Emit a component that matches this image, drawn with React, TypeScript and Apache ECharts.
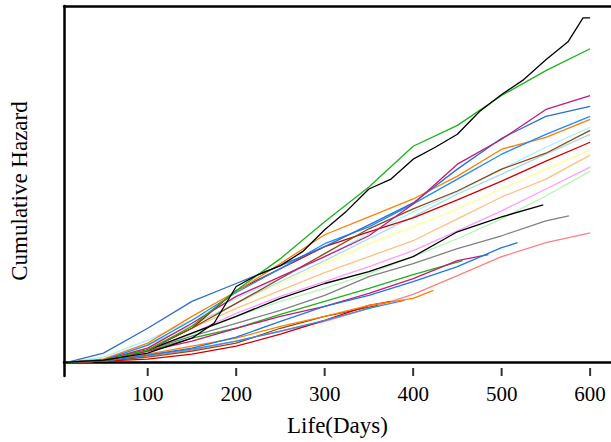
import React, { useEffect, useRef } from "react";
import * as echarts from "echarts";

// Shared sampling days (Life, days)
const DAYS = [10, 50, 100, 150, 200, 250, 300, 350, 400, 450, 500, 550, 600];

// Top black curve (read at 25-day spacing)
const blackTopDays = [10, 50, 100, 150, 175, 200, 225, 250, 275, 300, 325, 350, 375, 400, 425, 450, 475, 500, 525, 550, 575, 592, 600];
const blackTop = [0, 0.02, 0.09, 0.24, 0.39, 0.76, 0.88, 0.97, 1.11, 1.33, 1.52, 1.74, 1.84, 2.04, 2.16, 2.29, 2.52, 2.69, 2.84, 3.04, 3.22, 3.46, 3.46];

const greenTop = [0, 0.02, 0.12, 0.36, 0.72, 1.04, 1.41, 1.76, 2.17, 2.38, 2.68, 2.93, 3.15];
const magenta = [0, 0.02, 0.14, 0.39, 0.66, 0.86, 1.06, 1.27, 1.59, 1.99, 2.24, 2.54, 2.68];
const steelBlue = [0, 0.09, 0.34, 0.61, 0.79, 0.97, 1.16, 1.38, 1.6, 1.94, 2.25, 2.47, 2.57];
const dodgerBlue = [0, 0.02, 0.17, 0.42, 0.7, 0.94, 1.19, 1.36, 1.59, 1.84, 2.09, 2.29, 2.47];
const orange = [0, 0.03, 0.19, 0.46, 0.71, 0.99, 1.28, 1.46, 1.64, 1.87, 2.14, 2.26, 2.44];
const lightCyan = [0, 0.05, 0.22, 0.42, 0.64, 0.84, 1.06, 1.29, 1.51, 1.71, 1.94, 2.16, 2.36];
const brown = [0, 0.01, 0.12, 0.34, 0.59, 0.84, 1.09, 1.34, 1.54, 1.72, 1.94, 2.1, 2.33];
const lightBlue = [0, 0.03, 0.17, 0.37, 0.59, 0.81, 1.02, 1.24, 1.46, 1.69, 1.89, 2.09, 2.29];
const red = [0, 0.01, 0.12, 0.34, 0.72, 0.94, 1.16, 1.31, 1.45, 1.63, 1.82, 2.02, 2.21];
const lightYellow = [0, 0.02, 0.16, 0.37, 0.59, 0.79, 0.99, 1.19, 1.36, 1.54, 1.74, 1.94, 2.13];
const peach = [0, 0.02, 0.14, 0.34, 0.54, 0.72, 0.9, 1.06, 1.22, 1.44, 1.66, 1.84, 2.08];
const pink = [0, 0.02, 0.12, 0.29, 0.49, 0.66, 0.81, 0.96, 1.12, 1.32, 1.52, 1.74, 1.96];
const lightGreen = [0, 0.01, 0.11, 0.28, 0.46, 0.61, 0.74, 0.89, 1.06, 1.24, 1.44, 1.67, 1.92];
const salmon = [0, 0.01, 0.06, 0.12, 0.21, 0.31, 0.41, 0.54, 0.68, 0.87, 1.06, 1.2, 1.3];

// Curves that stop before day 600
const blackLowDays = [10, 50, 100, 150, 200, 250, 300, 350, 400, 450, 500, 547];
const blackLow = [0, 0.02, 0.12, 0.29, 0.46, 0.64, 0.79, 0.91, 1.06, 1.31, 1.46, 1.58];
const grayDays = [10, 50, 100, 150, 200, 250, 300, 350, 400, 450, 500, 550, 576];
const gray = [0, 0.01, 0.12, 0.26, 0.39, 0.52, 0.67, 0.86, 0.99, 1.14, 1.27, 1.42, 1.47];
const blueLowDays = [10, 50, 100, 150, 200, 250, 300, 350, 400, 450, 500, 518];
const blueLow = [0, 0.01, 0.07, 0.14, 0.25, 0.41, 0.56, 0.67, 0.81, 0.96, 1.15, 1.2];
const magentaShortDays = [10, 50, 100, 150, 200, 250, 300, 350, 400, 450, 485];
const magentaShort = [0, 0.01, 0.11, 0.21, 0.34, 0.46, 0.56, 0.69, 0.84, 1.02, 1.08];
const greenShortDays = [10, 50, 100, 150, 200, 250, 300, 350, 400, 456];
const greenShort = [0, 0.02, 0.11, 0.24, 0.34, 0.48, 0.61, 0.74, 0.88, 1.02];
const orangeShortDays = [10, 50, 100, 150, 200, 250, 300, 350, 400, 423];
const orangeShort = [0, 0.01, 0.08, 0.16, 0.24, 0.36, 0.46, 0.57, 0.64, 0.72];
const blueShortDays = [10, 50, 100, 150, 200, 250, 300, 350, 390];
const blueShort = [0, 0.01, 0.07, 0.13, 0.21, 0.31, 0.42, 0.54, 0.62];
const redLowDays = [10, 50, 100, 150, 200, 250, 300, 350, 375];
const redLow = [0, 0.01, 0.03, 0.08, 0.16, 0.28, 0.42, 0.57, 0.61];
const brownLowDays = [10, 50, 100, 150, 200, 250, 300, 360];
const brownLow = [0, 0.01, 0.05, 0.11, 0.19, 0.34, 0.46, 0.57];

const X_TICKS = [100, 200, 300, 400, 500, 600];

const curves = [
  { days: DAYS, v: lightGreen, c: "#b4f5b4" },
  { days: DAYS, v: pink, c: "#ff9cff" },
  { days: DAYS, v: peach, c: "#ffc080" },
  { days: DAYS, v: lightYellow, c: "#ffff99" },
  { days: DAYS, v: lightBlue, c: "#a8d8f0" },
  { days: DAYS, v: lightCyan, c: "#a8f0ff" },
  { days: DAYS, v: salmon, c: "#ff8080" },
  { days: brownLowDays, v: brownLow, c: "#8b4a14" },
  { days: redLowDays, v: redLow, c: "#d00000" },
  { days: blueShortDays, v: blueShort, c: "#3a8ee6" },
  { days: orangeShortDays, v: orangeShort, c: "#ff8000" },
  { days: greenShortDays, v: greenShort, c: "#19b419" },
  { days: magentaShortDays, v: magentaShort, c: "#c8187a" },
  { days: blueLowDays, v: blueLow, c: "#1a7ae0" },
  { days: grayDays, v: gray, c: "#808080" },
  { days: blackLowDays, v: blackLow, c: "#000000" },
  { days: DAYS, v: red, c: "#d00000" },
  { days: DAYS, v: brown, c: "#8b4a14" },
  { days: DAYS, v: orange, c: "#ff8000" },
  { days: DAYS, v: dodgerBlue, c: "#1a8cff" },
  { days: DAYS, v: steelBlue, c: "#2a6fc9" },
  { days: DAYS, v: magenta, c: "#c8187a" },
  { days: DAYS, v: greenTop, c: "#19b419" },
  { days: blackTopDays, v: blackTop, c: "#000000" },
];

const FONT = "Liberation Serif";
const Y_MIN = -0.14;
const Y_MAX = 3.58;

export default function App() {
  const ref = useRef<HTMLDivElement>(null);
  useEffect(() => {
    if (!ref.current) return;
    const chart = echarts.init(ref.current, null, { renderer: "svg" });
    const xMin = 5.4;
    const xMax = 623.6;
    const lineSeries = curves.map((s, i) => ({
      type: "line",
      xAxisIndex: 0,
      showSymbol: false,
      symbol: "none",
      silent: true,
      z: 2 + i * 0.01,
      data: s.days.map((d, k) => [d, s.v[k]]),
      lineStyle: { color: s.c, width: 1.3 },
    }));
    chart.setOption({
      animation: false,
      backgroundColor: "#ffffff",
      grid: { left: 62, top: 6, right: 0, bottom: 64, containLabel: false },
      xAxis: [
        {
          type: "value",
          min: xMin,
          max: xMax,
          position: "bottom",
          splitLine: { show: false },
          axisLine: { show: true, lineStyle: { color: "#000", width: 2.5 } },
          axisTick: { show: false },
          axisLabel: {
            show: true,
            color: "#000",
            fontFamily: FONT,
            fontWeight: "normal",
            fontSize: 21,
            margin: 7,
            customValues: X_TICKS,
            formatter: (v: number) => (X_TICKS.indexOf(Math.round(v)) >= 0 ? String(Math.round(v)) : ""),
          },
          name: "Life(Days)",
          nameLocation: "middle",
          nameGap: 38,
          nameTextStyle: { color: "#000", fontFamily: FONT, fontSize: 23, fontWeight: "normal" },
        },
        {
          type: "value",
          min: xMin,
          max: xMax,
          position: "top",
          splitLine: { show: false },
          axisLine: { show: true, lineStyle: { color: "#000", width: 2.5 } },
          axisTick: { show: false },
          axisLabel: { show: false },
        },
      ],
      yAxis: {
        type: "value",
        min: Y_MIN,
        max: Y_MAX,
        splitLine: { show: false },
        axisLine: { show: true, lineStyle: { color: "#000", width: 2.5 } },
        axisTick: { show: false },
        axisLabel: { show: false },
        name: "Cumulative Hazard",
        nameLocation: "middle",
        nameGap: 33,
        nameTextStyle: { color: "#000", fontFamily: FONT, fontSize: 23, fontWeight: "normal" },
      },
      series: [
        ...lineSeries,
        {
          // inward tick marks on the bottom axis
          type: "scatter",
          xAxisIndex: 0,
          silent: true,
          clip: false,
          z: 5,
          symbol: "rect",
          symbolSize: [2, 8],
          symbolOffset: [0, -4],
          itemStyle: { color: "#000" },
          data: X_TICKS.map((t) => [t, Y_MIN]),
        },
      ],
    });
    return () => chart.dispose();
  }, []);
  return <div ref={ref} style={{ width: 611, height: 442, position: "absolute", left: 0, top: 0 }} />;
}
